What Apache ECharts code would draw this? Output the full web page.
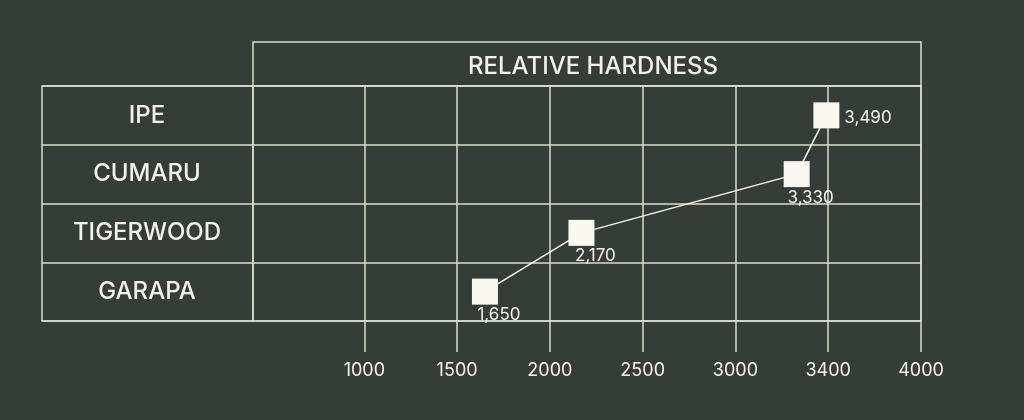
<!DOCTYPE html>
<html>
<head>
<meta charset="utf-8">
<script src="https://cdn.jsdelivr.net/npm/echarts@6/dist/echarts.min.js"></script>
<style>
html,body{margin:0;padding:0;background:#343e37;}
#chart{width:1024px;height:420px;}
</style>
</head>
<body>
<div id="chart"></div>
<script>
const categories = ['IPE', 'CUMARU', 'TIGERWOOD', 'GARAPA'];
const hardness = [3490, 3330, 2170, 1650];
const tickValues = [1000, 1500, 2000, 2500, 3000, 3500, 4000];
const tickLabels = ['1000', '1500', '2000', '2500', '3000', '3400', '4000'];
const headerText = 'RELATIVE HARDNESS';

const BG = '#343e37';
const LINE = '#d8dccd';
const TEXT = '#f4f1ea';
const POINT = '#fbf7f1';
const FONT = 'Inter, "Noto Sans", sans-serif';

function fmt(v) {
  return String(v).replace(/\B(?=(\d{3})+(?!\d))/g, ',');
}

const seriesData = categories.map((c, i) => {
  const isTop = i === 0;
  return {
    value: [hardness[i], c],
    label: isTop
      ? { position: 'right', distance: 5, offset: [0, 3] }
      : { position: 'bottom', distance: 0, offset: [14, 2] }
  };
});

const chart = echarts.init(document.getElementById('chart'), null, { renderer: 'canvas' });
chart.setOption({
  backgroundColor: BG,
  animation: false,
  title: {
    text: headerText,
    left: 588,
    textAlign: 'center',
    top: 50,
    textStyle: { color: TEXT, fontSize: 24, fontWeight: 500, fontFamily: FONT }
  },
  grid: [
    { left: 42, top: 86, width: 211, height: 235, show: true, borderColor: LINE, borderWidth: 1.5, backgroundColor: 'transparent' },
    { left: 253, top: 86, width: 668, height: 235, show: true, borderColor: LINE, borderWidth: 1.5, backgroundColor: 'transparent' },
    { left: 253, top: 42, width: 668, height: 44, show: true, borderColor: LINE, borderWidth: 1.5, backgroundColor: 'transparent' }
  ],
  xAxis: [
    { gridIndex: 0, type: 'value', show: false },
    {
      gridIndex: 1, type: 'value', min: 400, max: 4000,
      axisLine: { show: false },
      axisTick: { show: true, customValues: tickValues, length: 31, lineStyle: { color: LINE, width: 1.5 } },
      splitLine: { show: true, lineStyle: { color: LINE, width: 1.5 } },
      axisLabel: {
        show: true, customValues: tickValues, margin: 41,
        color: TEXT, fontSize: 18, fontFamily: FONT,
        formatter: function (v) { const k = tickValues.indexOf(v); return k >= 0 ? tickLabels[k] : ''; }
      }
    },
    { gridIndex: 2, type: 'value', show: false }
  ],
  yAxis: [
    {
      gridIndex: 0, type: 'category', data: categories, inverse: true,
      axisLine: { show: false }, axisTick: { show: false }, axisLabel: { show: false },
      splitLine: { show: true, lineStyle: { color: LINE, width: 1.5 } }
    },
    {
      gridIndex: 1, type: 'category', data: categories, inverse: true,
      axisLine: { show: false }, axisTick: { show: false },
      axisLabel: { show: true, margin: 106, align: 'center', color: TEXT, fontSize: 24, fontWeight: 500, fontFamily: FONT },
      splitLine: { show: true, lineStyle: { color: LINE, width: 1.5 } }
    },
    { gridIndex: 2, type: 'category', show: false, data: [''] }
  ],
  series: [{
    type: 'line',
    xAxisIndex: 1, yAxisIndex: 1,
    data: seriesData,
    symbol: 'rect',
    symbolSize: 26,
    itemStyle: { color: POINT, borderWidth: 0 },
    lineStyle: { color: POINT, width: 1.5 },
    label: {
      show: true, color: TEXT, fontSize: 17, fontFamily: FONT,
      formatter: p => fmt(p.value[0])
    },
    z: 5
  }]
});
</script>
</body>
</html>
